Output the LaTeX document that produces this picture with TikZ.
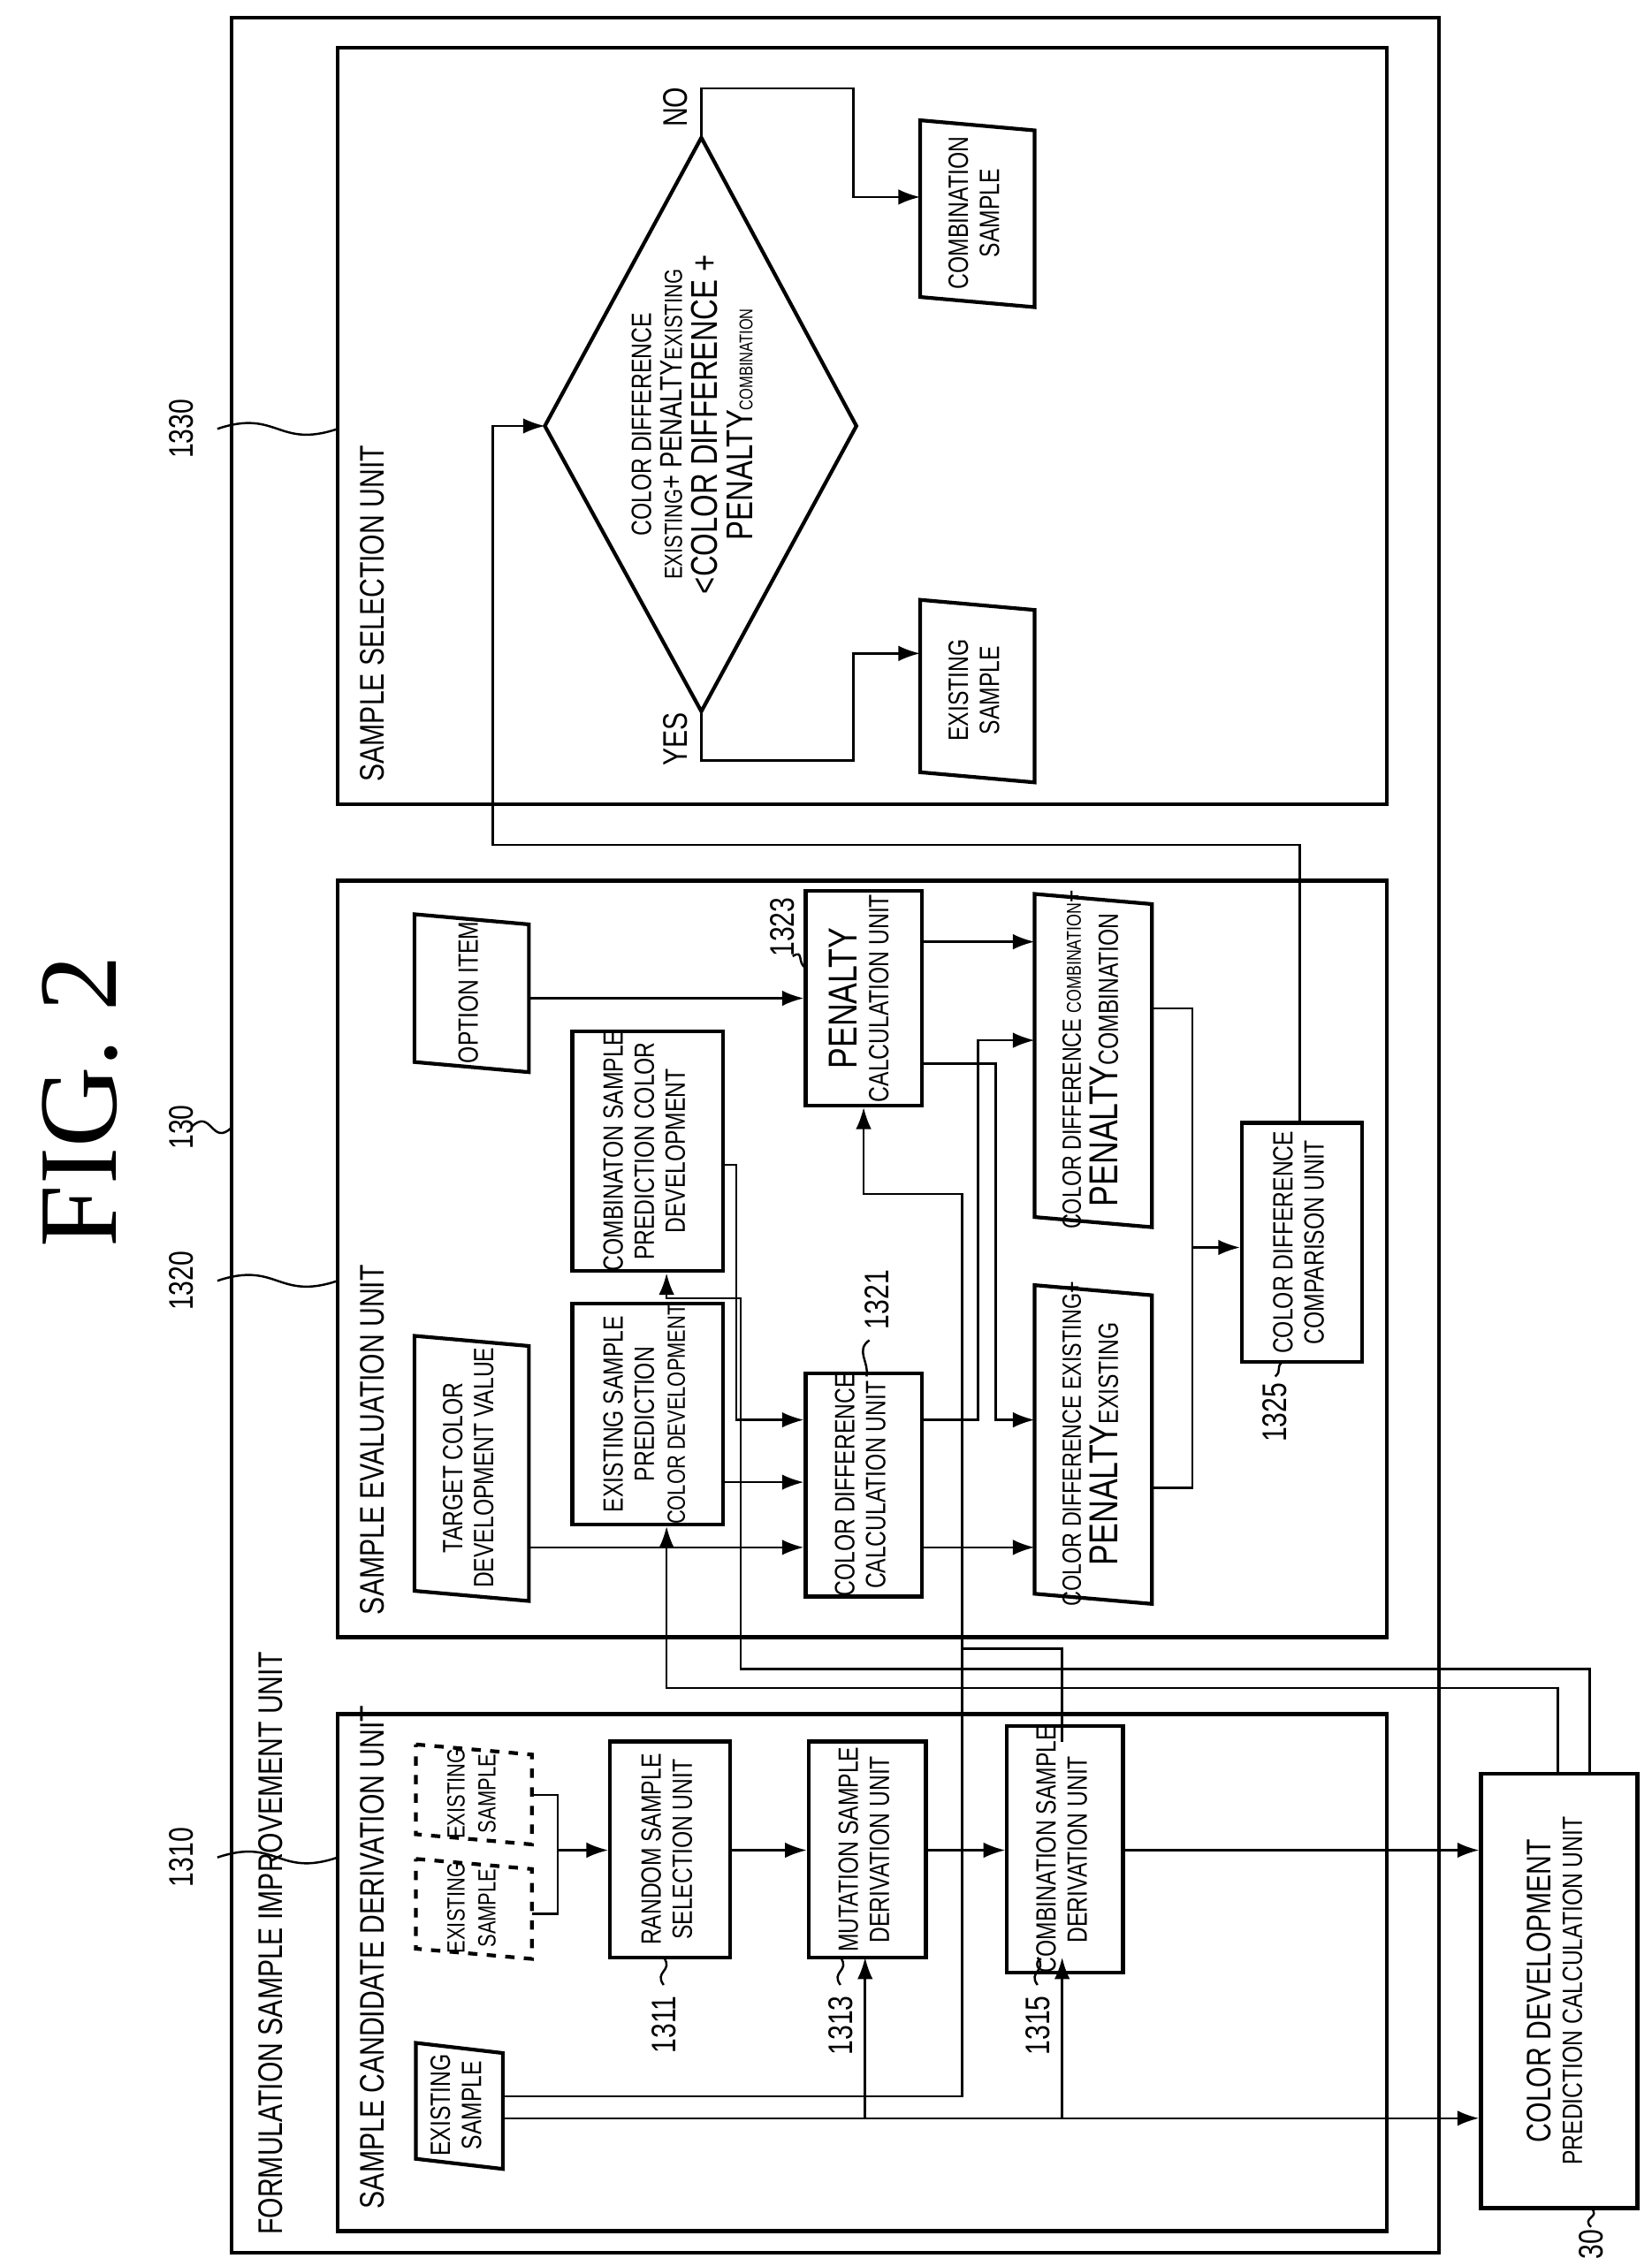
\documentclass[tikz,border=0pt]{standalone}
\usepackage{fontspec}
\setmainfont{Liberation Sans}[FakeStretch=0.78]
\newfontfamily\figfont{Liberation Serif}
\usetikzlibrary{arrows.meta}
\begin{document}
\begin{tikzpicture}[x=0.0164cm,y=-0.0164cm,
  font=\fontsize{9}{10}\selectfont,
  bx/.style={draw,line width=1.2pt,inner sep=0pt,align=center},
  ln/.style={line width=0.7pt},
  arr/.style={line width=0.7pt,-{Latex[length=7pt,width=5pt]}},
  frm/.style={draw,line width=1.1pt}]
\useasboundingbox (0,0) rectangle (1140,1564);
\newcommand\bx[6]{\node[bx,minimum width={(#4-#2)*0.0164cm},minimum height={(#5-#3)*0.0164cm}] (#1) at ({(#2+#4)/2},{(#3+#5)/2}) {\rotatebox{90}{\begin{tabular}{@{}c@{}}#6\end{tabular}}};}
\newcommand\pg[7][solid]{\node[inner sep=0pt,minimum width={(#5-#3)*0.0164cm},minimum height={(#6-#4)*0.0164cm}] (#2) at ({(#3+#5)/2},{(#4+#6)/2+3}) {\rotatebox{90}{\begin{tabular}{@{}c@{}}#7\end{tabular}}};
 \draw[line width=1.2pt,#1] (#3,#4)--(#5,{#4+7})--(#5,{#6+7})--(#3,#6)--cycle;}
\newcommand\sq[3]{\draw[ln] (#1,#2) .. controls ({(#1+#3)/2},{#2-14}) and ({(#1+#3)/2},{#2+14}) .. (#3,#2);}
\newcommand\vsq[3]{\draw[ln] (#1,#2) .. controls ({#1-7},{(#2+#3)/2}) and ({#1+7},{(#2+#3)/2}) .. (#1,#3);}
% title
\node[font=\figfont\fontsize{36}{40}\selectfont,rotate=90] (fig) at (55,760) {FIG. 2};
% frames
\node[frm,minimum width={833*0.0164cm},minimum height={1543*0.0164cm}] (outer) at (576.5,783.5) {};
\node[frm,line width=1.3pt,minimum width={724*0.0164cm},minimum height={357*0.0164cm}] (scd) at (595,1361.5) {};
\node[frm,line width=1.3pt,minimum width={724*0.0164cm},minimum height={522*0.0164cm}] (sev) at (595,869) {};
\node[frm,line width=1.3pt,minimum width={724*0.0164cm},minimum height={522*0.0164cm}] (ssel) at (595,294) {};
\node[rotate=90,anchor=west,font=\fontsize{11}{12}\selectfont] (tout) at (187,1550) {FORMULATION SAMPLE IMPROVEMENT UNIT};
\node[rotate=90,anchor=west,font=\fontsize{11}{12}\selectfont] (tscd) at (257,1532) {SAMPLE CANDIDATE DERIVATION UNIT};
\node[rotate=90,anchor=west,font=\fontsize{11}{12}\selectfont] (tsev) at (257,1122) {SAMPLE EVALUATION UNIT};
\node[rotate=90,anchor=west,font=\fontsize{11}{12}\selectfont] (tssel) at (257,547) {SAMPLE SELECTION UNIT};
% reference numerals
\node[rotate=90,font=\fontsize{11}{12}\selectfont] (n130) at (125,778) {130}; \sq{132}{778}{160}
\node[rotate=90,font=\fontsize{11}{12}\selectfont] (n1310) at (125,1282) {1310}; \sq{150}{1282}{233}
\node[rotate=90,font=\fontsize{11}{12}\selectfont] (n1320) at (125,884) {1320}; \sq{150}{884}{233}
\node[rotate=90,font=\fontsize{11}{12}\selectfont] (n1330) at (125,296) {1330}; \sq{150}{296}{233}
% SCD unit
\pg{es}{287}{1410}{347}{1490}{EXISTING\\SAMPLE}
\pg[dashed]{es1}{287}{1283}{367}{1345}{\fontsize{8}{9}\selectfont EXISTING\\\fontsize{8}{9}\selectfont SAMPLE}
\pg[dashed]{es2}{287}{1204}{367}{1266}{\fontsize{8}{9}\selectfont EXISTING\\\fontsize{8}{9}\selectfont SAMPLE}
\bx{rss}{421}{1202}{504}{1351}{RANDOM SAMPLE\\SELECTION UNIT}
\bx{msd}{558}{1202}{639}{1351}{MUTATION SAMPLE\\DERIVATION UNIT}
\bx{csd}{695}{1202}{775}{1351}{COMBINATION SAMPLE\\DERIVATION UNIT}
\bx{cdpc}{1022}{1224}{1130}{1524}{{\fontsize{11}{12}\selectfont COLOR DEVELOPMENT}\\PREDICTION CALCULATION UNIT}
\node[rotate=90,font=\fontsize{11}{12}\selectfont,anchor=east] (n1311) at (458,1370) {1311}; \vsq{458}{1370}{1351}
\node[rotate=90,font=\fontsize{11}{12}\selectfont,anchor=east] (n1313) at (580,1370) {1313}; \vsq{580}{1370}{1351}
\node[rotate=90,font=\fontsize{11}{12}\selectfont,anchor=east] (n1315) at (716,1370) {1315}; \vsq{716}{1370}{1351}
\node[rotate=90,font=\fontsize{11}{12}\selectfont] (n30) at (1098,1549) {30}; \vsq{1098}{1537}{1524}
\draw[ln] (es1.east |- 0,1321) -- (385,1321) -- (385,1239) -- (es2.east |- 0,1239);
\draw[arr] (385,1277) -- (rss.west |- 0,1277);
\draw[arr] (rss.east |- 0,1277) -- (msd.west |- 0,1277);
\draw[arr] (msd.east |- 0,1277) -- (csd.west |- 0,1277);
\draw[arr] (csd.east |- 0,1277) -- (cdpc.west |- 0,1277);
\draw[arr] (es.east |- 0,1462) -- (cdpc.west |- 0,1462);
\draw[arr] (597,1462) -- (597,1351);
\draw[arr] (733,1462) -- (733,1351);
% evaluation unit
\pg{tcv}{286}{922}{365}{1098}{TARGET COLOR\\DEVELOPMENT VALUE}
\pg{opt}{286}{631}{365}{733}{OPTION ITEM}
\bx{esp}{395}{910}{499}{1042}{EXISTING SAMPLE\\PREDICTION\\{\fontsize{8}{9}\selectfont COLOR DEVELOPMENT}}
\bx{csp}{395}{719}{499}{870}{COMBINATON SAMPLE\\PREDICTION COLOR\\DEVELOPMENT}
\bx{pcu}{556}{615}{636}{763}{{\fontsize{13}{13}\selectfont PENALTY}\\CALCULATION UNIT}
\bx{cdc}{556}{950}{636}{1100}{COLOR DIFFERENCE\\CALCULATION UNIT}
\pg{cdcomb}{714}{617}{795}{840}{{\fontsize{8.5}{10}\selectfont COLOR DIFFERENCE }{\fontsize{6.5}{8}\selectfont COMBINATION}+\\{\fontsize{13}{14}\selectfont PENALTY}{\fontsize{9}{10}\selectfont COMBINATION}}
\pg{cdex}{714}{887}{795}{1100}{{\fontsize{8.5}{10}\selectfont COLOR DIFFERENCE EXISTING+}\\{\fontsize{13}{14}\selectfont PENALTY}{\fontsize{9}{10}\selectfont EXISTING}}
\bx{cmp}{857}{775}{940}{940}{COLOR DIFFERENCE\\COMPARISON UNIT}
\node[rotate=90,font=\fontsize{11}{12}\selectfont] (n1323) at (540,640) {1323}; \draw[ln] (547,660) .. controls (555,655) and (550,665) .. (556,668);
\node[rotate=90,font=\fontsize{11}{12}\selectfont] (n1321) at (605,897) {1321}; \draw[ln] (600,925) .. controls (590,932) and (600,940) .. (598,950);
\node[rotate=90,font=\fontsize{11}{12}\selectfont] (n1325) at (880,975) {1325}; \draw[ln] (880,950) .. controls (885,946) and (880,944) .. (885,940);
\draw[arr] (tcv.east |- 0,1068) -- (cdc.west |- 0,1068);
\draw[arr] (esp.east |- 0,1023) -- (cdc.west |- 0,1023);
\draw[arr] (csp.east |- 0,804) -- (508,804) -- (508,980) -- (cdc.west |- 0,980);
\draw[arr] (opt.east |- 0,689) -- (pcu.west |- 0,689);
\draw[arr] (pcu.east |- 0,650) -- (714,650);
\draw[arr] (pcu.east |- 0,734) -- (687,734) -- (687,980) -- (714,980);
\draw[arr] (cdc.east |- 0,980) -- (675,980) -- (675,718) -- (714,718);
\draw[arr] (cdc.east |- 0,1068) -- (714,1068);
\draw[ln] (795,696) -- (823,696) -- (823,1027) -- (795,1027);
\draw[arr] (823,861) -- (cmp.west |- 0,861);
% cross-unit connectors
\draw[arr] (es.east |- 0,1447) -- (664,1447) -- (664,824) -- (596,824) -- (pcu.south -| 596,0);
\draw[ln] (733,1202) -- (733,1138) -- (664,1138);
\draw[arr] (1075,1224) -- (1075,1165) -- (460,1165) -- (esp.south -| 460,0);
\draw[arr] (1097,1224) -- (1097,1152) -- (511,1152) -- (511,896) -- (460,896) -- (csp.south -| 460,0);
\draw[arr] (cmp.north -| 897,0) -- (897,583) -- (340,583) -- (340,294) -- (376,294);
% selection unit
\draw[line width=1.2pt] (376,294) -- (484,95) -- (591,294) -- (484,491) -- cycle;
\node[inner sep=0pt] (diat) at (480,293) {\rotatebox{90}{\begin{tabular}{@{}c@{}}{\fontsize{9}{10}\selectfont COLOR DIFFERENCE}\\{\fontsize{8}{10}\selectfont EXISTING}{\fontsize{10}{11}\selectfont+ PENALTY}{\fontsize{8}{10}\selectfont EXISTING}\\{\fontsize{12}{13}\selectfont <COLOR DIFFERENCE +}\\{\fontsize{12}{13}\selectfont PENALTY}{\fontsize{6}{8}\selectfont COMBINATION}\end{tabular}}};
\pg{cs}{635}{83}{714}{205}{COMBINATION\\SAMPLE}
\pg{exs}{635}{414}{714}{533}{EXISTING\\SAMPLE}
\node[rotate=90,font=\fontsize{11}{12}\selectfont] (no) at (466,74) {NO};
\node[rotate=90,font=\fontsize{11}{12}\selectfont] (yes) at (466,510) {YES};
\draw[arr] (484,95) -- (484,61) -- (589,61) -- (589,136) -- (635,136);
\draw[arr] (484,491) -- (484,525) -- (589,525) -- (589,451) -- (635,451);
\end{tikzpicture}
\end{document}
